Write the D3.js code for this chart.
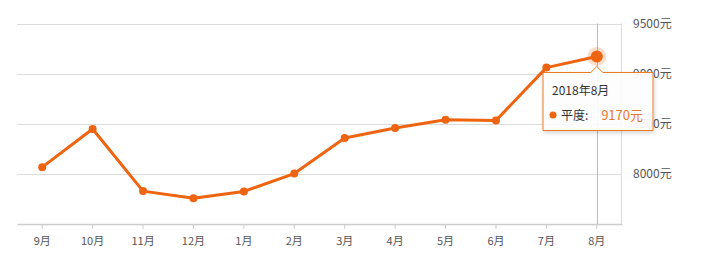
<!DOCTYPE html>
<html>
<head>
<meta charset="utf-8">
<script src="https://cdn.jsdelivr.net/npm/d3@7"></script>
<style>
  body { margin: 0; background: #fff; }
  svg { display: block; font-family: "Microsoft YaHei", "Noto Sans CJK SC", sans-serif; }
</style>
</head>
<body>
<div id="chart"></div>
<script>
let width = 706;
let height = 263;

// data
const months = ["9月","10月","11月","12月","1月","2月","3月","4月","5月","6月","7月","8月"];
const prices = [8067, 8447, 7828, 7757, 7825, 8003, 8357, 8457, 8540, 8533, 9060, 9170];
const yTicks = [8000, 8500, 9000, 9500];
const seriesName = "平度";
const tipTitle = "2018年8月";

const orange = "#ef6410";

let x = d3.scaleBand().domain(months).range([17, 622]);
let y = d3.scaleLinear().domain([7500, 9500]).range([224, 23.5]);

let svg = d3.select("#chart").append("svg")
  .attr("width", width)
  .attr("height", height);

let defs = svg.append("defs");
let f = defs.append("filter").attr("id", "shadow")
  .attr("x", "-20%").attr("y", "-20%").attr("width", "140%").attr("height", "150%");
f.append("feDropShadow").attr("dx", 1).attr("dy", 2).attr("stdDeviation", 2)
  .attr("flood-color", "#000").attr("flood-opacity", 0.18);

// gridlines
svg.append("g")
  .selectAll("line")
  .data(yTicks)
  .join("line")
  .attr("x1", 17).attr("x2", 622)
  .attr("y1", d => Math.round(y(d)) + 0.5)
  .attr("y2", d => Math.round(y(d)) + 0.5)
  .attr("stroke", "#dcdcdc");

// right border
svg.append("line")
  .attr("x1", 621.5).attr("x2", 621.5)
  .attr("y1", y(9500)).attr("y2", y(7500))
  .attr("stroke", "#dcdcdc");

// y labels on the right
svg.append("g")
  .selectAll("text")
  .data(yTicks)
  .join("text")
  .attr("x", 633)
  .attr("y", d => y(d))
  .attr("dy", "0.35em")
  .attr("fill", "#555")
  .style("font-size", "12px")
  .text(d => d + "元");

// x axis
let xAxis = d3.axisBottom(x).tickSize(5).tickSizeOuter(0).tickPadding(8);
let gx = svg.append("g")
  .attr("transform", `translate(0,${Math.round(y(7500))})`)
  .call(xAxis);
gx.select(".domain").attr("stroke", "#ccc").attr("stroke-width", 1.5);
gx.selectAll(".tick line").attr("stroke", "#ccc");
gx.selectAll(".tick text").attr("fill", "#555").style("font-size", "11px")
  .style("font-family", "\"Microsoft YaHei\", \"Noto Sans CJK SC\", sans-serif");

// axis pointer
let last = months.length - 1;
let px = x(months[last]) + x.bandwidth() / 2;
svg.append("line")
  .attr("x1", Math.round(px) + 0.5).attr("x2", Math.round(px) + 0.5)
  .attr("y1", y(9500)).attr("y2", y(7500))
  .attr("stroke", "#bbb");

// line
let line = d3.line()
  .x((d, i) => x(months[i]) + x.bandwidth() / 2)
  .y(d => y(d));

svg.append("path")
  .datum(prices)
  .attr("d", line)
  .attr("fill", "none")
  .attr("stroke", orange)
  .attr("stroke-width", 3)
  .attr("stroke-linejoin", "round");

svg.append("g")
  .selectAll("circle")
  .data(prices)
  .join("circle")
  .attr("cx", (d, i) => x(months[i]) + x.bandwidth() / 2)
  .attr("cy", d => y(d))
  .attr("r", (d, i) => i === last ? 0 : 4)
  .attr("fill", orange);

// highlighted point
let hy = y(prices[last]);
svg.append("circle").attr("cx", px).attr("cy", hy).attr("r", 9.5)
  .attr("fill", orange).attr("fill-opacity", 0.22);
svg.append("circle").attr("cx", px).attr("cy", hy).attr("r", 6)
  .attr("fill", orange);

// tooltip
let tx = 543, ty = 72.5, tw = 110, th = 58;
let tip = svg.append("g");
tip.append("path")
  .attr("d", `M${tx},${ty} H${px - 6} L${px},${ty - 6} L${px + 6},${ty} H${tx + tw} V${ty + th} H${tx} Z`)
  .attr("fill", "rgba(255,255,255,0.9)")
  .attr("stroke", "#f07a20")
  .attr("stroke-width", 1)
  .attr("filter", "url(#shadow)");
tip.append("text")
  .attr("x", tx + 9).attr("y", ty + 22)
  .attr("fill", "#333")
  .style("font-size", "12px")
  .text(tipTitle);
tip.append("circle")
  .attr("cx", tx + 10).attr("cy", ty + 42.5).attr("r", 3.5)
  .attr("fill", orange);
tip.append("text")
  .attr("x", tx + 18).attr("y", ty + 47)
  .attr("fill", "#333")
  .style("font-size", "12px")
  .text(seriesName + ":");
tip.append("text")
  .attr("x", tx + tw - 10).attr("y", ty + 47)
  .attr("text-anchor", "end")
  .attr("fill", "#e8772e")
  .style("font-size", "13px")
  .text(prices[last] + "元");
</script>
</body>
</html>
